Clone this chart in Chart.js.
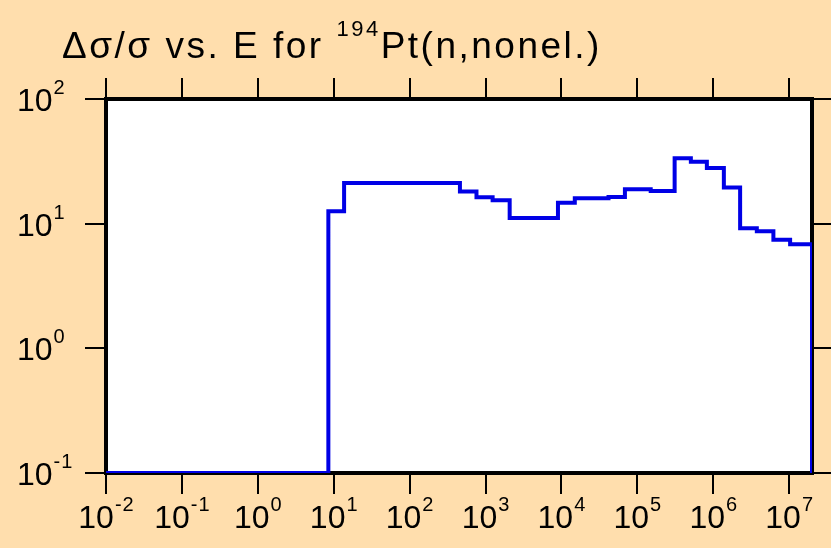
<!DOCTYPE html>
<html>
<head>
<meta charset="utf-8">
<script src="https://cdn.jsdelivr.net/npm/chart.js@4/dist/chart.umd.min.js"></script>
<style>
  html, body { margin: 0; padding: 0; background: #FFDEAD; }
  canvas { display: block; }
</style>
</head>
<body>
<canvas id="chart" width="831" height="548"></canvas>
<script>
// group lower edges (eV), last entry is the upper edge of the last group
const energyEdges = [1e-2, 8.5, 13.7, 460, 760, 1240, 2080, 9000, 15000, 41700, 68600,
                     150000, 310000, 507000, 824000, 1.38e6, 2.26e6, 3.75e6, 6.2e6, 1.03e7, 2e7];
// relative uncertainty (%) per group
const relUnc = [0.1, 12.6, 21.2, 18.1, 16.3, 15.4, 11.1, 14.7, 16.0, 16.4, 18.9,
                18.3, 33.4, 31.4, 28.0, 19.5, 9.2, 8.7, 7.44, 6.83];
const xTickExps = [-2, -1, 0, 1, 2, 3, 4, 5, 6, 7];
const yTickExps = [-1, 0, 1, 2];
const titleMain = 'Δσ/σ vs. E for ';
const titleSup = '194';
const titleRest = 'Pt(n,nonel.)';

const points = relUnc.map(function(v, i) { return {x: energyEdges[i], y: v}; });
points.push({x: energyEdges[energyEdges.length - 1], y: 0.1});

const FONT = '"Liberation Sans", Arial, Helvetica, sans-serif';

function spaced(ctx, text, x, y, sp) {
    for (const ch of text) {
        ctx.fillText(ch, x, y);
        x += ctx.measureText(ch).width + sp;
    }
    return x;
}
function spacedWidth(ctx, text, sp) {
    let w = 0;
    for (const ch of text) w += ctx.measureText(ch).width + sp;
    return w;
}

const decorPlugin = {
    id: 'decor',
    beforeDraw(chart) {
        const {ctx, chartArea: a} = chart;
        ctx.save();
        ctx.fillStyle = '#ffffff';
        ctx.fillRect(a.left, a.top, a.right - a.left, a.bottom - a.top);
        ctx.restore();
    },
    beforeDatasetsDraw(chart) {
        const {ctx, chartArea: a, scales} = chart;
        ctx.save();
        ctx.strokeStyle = '#000';
        ctx.lineWidth = 4;
        ctx.strokeRect(a.left, a.top, a.right - a.left, a.bottom - a.top);
        ctx.lineWidth = 2;
        ctx.beginPath();
        xTickExps.forEach(function(e) {
            const px = Math.round(scales.x.getPixelForValue(Math.pow(10, e)));
            ctx.moveTo(px, a.bottom + 2); ctx.lineTo(px, a.bottom + 21);
            ctx.moveTo(px, a.top - 2); ctx.lineTo(px, a.top - 21);
        });
        yTickExps.forEach(function(e) {
            const py = Math.round(scales.y.getPixelForValue(Math.pow(10, e)));
            ctx.moveTo(a.left - 2, py); ctx.lineTo(a.left - 21, py);
            ctx.moveTo(a.right + 2, py); ctx.lineTo(a.right + 21, py);
        });
        ctx.stroke();

        // tick labels
        ctx.fillStyle = '#000';
        ctx.textBaseline = 'alphabetic';
        ctx.textAlign = 'left';
        xTickExps.forEach(function(e) {
            const px = scales.x.getPixelForValue(Math.pow(10, e));
            ctx.font = '32px ' + FONT;
            const wb = ctx.measureText('10').width;
            ctx.font = '20px ' + FONT;
            const ws = spacedWidth(ctx, String(e), 1);
            const x0 = px - (wb + ws) / 2;
            ctx.font = '32px ' + FONT;
            ctx.fillText('10', x0, a.bottom + 55);
            ctx.font = '20px ' + FONT;
            spaced(ctx, String(e), x0 + wb + 1, a.bottom + 38, 1);
        });
        yTickExps.forEach(function(e) {
            const py = scales.y.getPixelForValue(Math.pow(10, e));
            ctx.font = '32px ' + FONT;
            ctx.fillText('10', 17, py + 12);
            const wb = ctx.measureText('10').width;
            ctx.font = '20px ' + FONT;
            spaced(ctx, String(e), 17 + wb + 1, py - 5, 1);
        });

        // title
        ctx.font = '37px ' + FONT;
        let x = spaced(ctx, titleMain, 62, 58, 2.5);
        ctx.font = '22px ' + FONT;
        x = spaced(ctx, titleSup, x, 36, 2.5);
        ctx.font = '37px ' + FONT;
        spaced(ctx, titleRest, x, 58, 2.5);
        ctx.restore();
    }
};

const config = {
    type: 'line',
    data: {
        datasets: [{
            label: 'rel. uncertainty',
            data: points,
            borderColor: 'rgb(0, 0, 230)',
            borderWidth: 4,
            pointRadius: 0,
            stepped: true,
            fill: false,
            clip: 0
        }]
    },
    options: {
        responsive: false,
        animation: false,
        devicePixelRatio: 1,
        layout: { padding: { left: 106, right: 19, top: 99, bottom: 75 } },
        plugins: { legend: { display: false }, title: { display: false }, tooltip: { enabled: false } },
        scales: {
            x: { type: 'logarithmic', min: 0.01, max: 2e7, display: false },
            y: { type: 'logarithmic', min: 0.1, max: 100, display: false }
        }
    },
    plugins: [decorPlugin]
};
const chart = new Chart(document.getElementById('chart'), config);
</script>
</body>
</html>
